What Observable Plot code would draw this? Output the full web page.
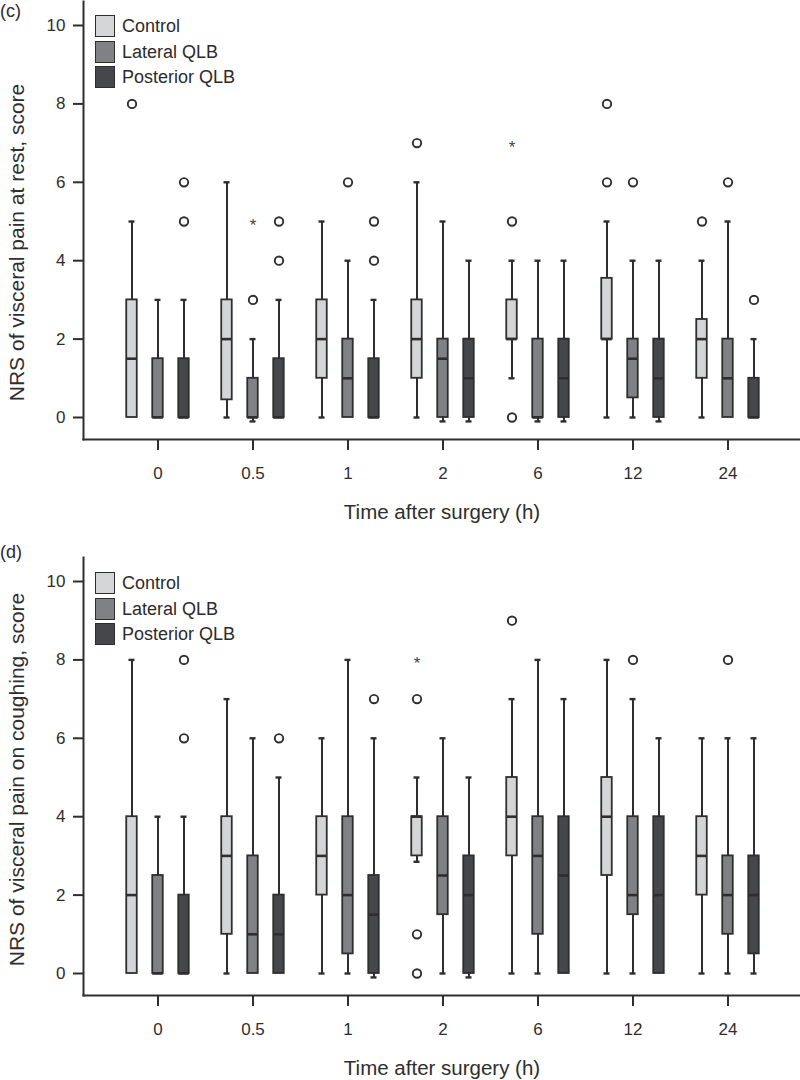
<!DOCTYPE html>
<html>
<head>
<meta charset="utf-8">
<script src="https://cdn.jsdelivr.net/npm/d3@7"></script>
<script src="https://cdn.jsdelivr.net/npm/@observablehq/plot@0.6"></script>
<style>
  body { margin: 0; background: #fff; font-family: "Liberation Sans", Arial, sans-serif; color: #2b2b2b; }
  #root { position: relative; width: 800px; }
  .panel { position: relative; width: 800px; height: 540px; }
  .panel svg { display: block; }
  .tag { position: absolute; left: 0; font-size: 18px; line-height: 18px; }
  .legend { position: absolute; left: 95px; font-size: 18px; }
  .legend .row { position: relative; height: 25.5px; }
  .legend .sw { position: absolute; left: 0; top: 0; width: 20px; height: 22px; box-sizing: border-box; border: 1.6px solid #2e2e2e; }
  .legend .lab { position: absolute; left: 27px; top: 1px; line-height: 20px; white-space: nowrap; }
</style>
</head>
<body>
<div id="root"></div>
<script>
// ---- categories ----
const times = ["0", "0.5", "1", "2", "6", "12", "24"];
const groups = ["Control", "Lateral QLB", "Posterior QLB"];
const yTicks = [0, 2, 4, 6, 8, 10];

// ---- (c) NRS at rest: rows = groups, columns = times ----
const restMin = [
  [0, 0, 0, 0, 1, 0, 0],
  [0, -0.1, 0, -0.1, -0.1, 0, 0],
  [0, 0, 0, -0.1, -0.1, -0.1, 0]
];
const restQ1 = [
  [0, 0.45, 1, 1, 2, 2, 1],
  [0, 0, 0, 0, 0, 0.5, 0],
  [0, 0, 0, 0, 0, 0, 0]
];
const restMed = [
  [1.5, 2, 2, 2, 2, 2, 2],
  [0, 0, 1, 1.5, 0, 1.5, 1],
  [0, 0, 0, 1, 1, 1, 0]
];
const restQ3 = [
  [3, 3, 3, 3, 3, 3.55, 2.5],
  [1.5, 1, 2, 2, 2, 2, 2],
  [1.5, 1.5, 1.5, 2, 2, 2, 1]
];
const restMax = [
  [5, 6, 5, 6, 4, 5, 4],
  [3, 2, 4, 5, 4, 4, 5],
  [3, 3, 3, 4, 4, 4, 2]
];
// outliers: [time, group, value]
const restOutliers = [
  ["0", "Control", 8], ["2", "Control", 7], ["6", "Control", 0], ["6", "Control", 5],
  ["12", "Control", 6], ["12", "Control", 8], ["24", "Control", 5],
  ["0.5", "Lateral QLB", 3], ["1", "Lateral QLB", 6], ["12", "Lateral QLB", 6], ["24", "Lateral QLB", 6],
  ["0", "Posterior QLB", 5], ["0", "Posterior QLB", 6], ["0.5", "Posterior QLB", 4], ["0.5", "Posterior QLB", 5],
  ["1", "Posterior QLB", 4], ["1", "Posterior QLB", 5], ["24", "Posterior QLB", 3]
];
const restExtremes = [["0.5", "Lateral QLB", 5], ["6", "Control", 7]];

// ---- (d) NRS on coughing ----
const coughMin = [
  [0, 0, 0, 2.85, 0, 0, 0],
  [0, 0, 0, 0, 0, 0, 0],
  [0, 0, -0.1, -0.1, 0, 0, 0]
];
const coughQ1 = [
  [0, 1, 2, 3, 3, 2.5, 2],
  [0, 0, 0.5, 1.5, 1, 1.5, 1],
  [0, 0, 0, 0, 0, 0, 0.5]
];
const coughMed = [
  [2, 3, 3, 4, 4, 4, 3],
  [0, 1, 2, 2.5, 3, 2, 2],
  [0, 1, 1.5, 2, 2.5, 2, 2]
];
const coughQ3 = [
  [4, 4, 4, 4, 5, 5, 4],
  [2.5, 3, 4, 4, 4, 4, 3],
  [2, 2, 2.5, 3, 4, 4, 3]
];
const coughMax = [
  [8, 7, 6, 5, 7, 8, 6],
  [4, 6, 8, 6, 8, 7, 6],
  [4, 5, 6, 5, 7, 6, 6]
];
const coughOutliers = [
  ["2", "Control", 7], ["2", "Control", 1], ["2", "Control", 0], ["6", "Control", 9],
  ["12", "Lateral QLB", 8], ["24", "Lateral QLB", 8],
  ["0", "Posterior QLB", 6], ["0", "Posterior QLB", 8], ["0.5", "Posterior QLB", 6], ["1", "Posterior QLB", 7]
];
const coughExtremes = [["2", "Control", 8]];

// ---- style ----
const fills = ["#d4d5d7", "#808185", "#46474b"];
const ink = "#2e2e2e";
const shift = [-26, 0, 26];   // horizontal offset of each group's box inside a time band
const boxInset = 42.25;       // band 95px -> box ~10.5px
const capInset = 44.5;        // whisker cap ~6px
const font = "'Liberation Sans', Arial, sans-serif";

function buildRows(mins, q1s, meds, q3s, maxs) {
  const rows = [];
  groups.forEach((g, gi) => times.forEach((t, ti) => rows.push({
    time: t, group: g, min: mins[gi][ti], q1: q1s[gi][ti], med: meds[gi][ti], q3: q3s[gi][ti], max: maxs[gi][ti]
  })));
  return rows;
}

function makePanel(cfg) {
  const rows = buildRows(cfg.mins, cfg.q1s, cfg.meds, cfg.q3s, cfg.maxs);
  const outs = cfg.outliers.map(([time, group, value]) => ({time, group, value}));
  const ext = cfg.extremes.map(([time, group, value]) => ({time, group, value}));
  const marks = [];
  groups.forEach((g, gi) => {
    const d = rows.filter(r => r.group === g);
    const dx = shift[gi];
    marks.push(Plot.ruleX(d, {x: "time", y1: "min", y2: "max", dx, stroke: ink, strokeWidth: 2}));
    marks.push(Plot.tickY(d.filter(r => r.max > r.q3), {x: "time", y: "max", dx, insetLeft: capInset, insetRight: capInset, stroke: ink, strokeWidth: 2.4}));
    marks.push(Plot.tickY(d.filter(r => r.min < r.q1), {x: "time", y: "min", dx, insetLeft: capInset, insetRight: capInset, stroke: ink, strokeWidth: 2.4}));
    marks.push(Plot.barY(d, {x: "time", y1: "q1", y2: "q3", dx, insetLeft: boxInset, insetRight: boxInset, fill: fills[gi], stroke: ink, strokeWidth: 1.8}));
    marks.push(Plot.tickY(d, {x: "time", y: "med", dx, insetLeft: boxInset, insetRight: boxInset, stroke: ink, strokeWidth: 2.6}));
    marks.push(Plot.dot(outs.filter(o => o.group === g), {x: "time", y: "value", dx, r: 4.2, fill: "white", stroke: ink, strokeWidth: 1.9}));
    marks.push(Plot.text(ext.filter(o => o.group === g), {x: "time", y: "value", dx, text: () => "*", fontSize: 17, fill: "#444", dy: 4}));
  });
  return Plot.plot({
    width: 800,
    height: 540,
    marginLeft: 83,
    marginRight: 0,
    marginTop: cfg.marginTop,
    marginBottom: cfg.marginBottom,
    insetLeft: 26.5,
    insetRight: 24.5,
    insetTop: 24,
    insetBottom: 22,
    style: {fontFamily: font, fontSize: "17px", color: ink, background: "white"},
    x: {type: "band", domain: times, padding: 0},
    y: {domain: [0, 10]},
    marks: [
      Plot.frame({anchor: "left", stroke: ink, strokeWidth: 2}),
      Plot.frame({anchor: "bottom", stroke: ink, strokeWidth: 2}),
      Plot.axisY({ticks: yTicks, tickSize: 10, tickPadding: 8, label: null, strokeWidth: 2, stroke: ink, fontSize: 17}),
      Plot.axisX({tickSize: 11, tickPadding: 16, label: null, strokeWidth: 2, stroke: ink, fontSize: 17}),
      Plot.text([cfg.ylabel], {frameAnchor: "left", textAnchor: "middle", lineAnchor: "middle", rotate: -90, dx: -66, dy: cfg.ylabelDy, fontSize: 21, fill: ink}),
      Plot.text(["Time after surgery (h)"], {frameAnchor: "bottom", textAnchor: "middle", lineAnchor: "middle", dy: 72.5, fontSize: 20.5, fill: ink}),
      ...marks
    ]
  });
}

function addPanel(tag, cfg, legendTop) {
  const div = document.createElement("div");
  div.className = "panel";
  div.appendChild(makePanel(cfg));
  const t = document.createElement("div");
  t.className = "tag";
  t.style.top = cfg.tagTop + "px";
  t.textContent = tag;
  div.appendChild(t);
  const lg = document.createElement("div");
  lg.className = "legend";
  lg.style.top = legendTop + "px";
  groups.forEach((g, gi) => {
    const row = document.createElement("div");
    row.className = "row";
    const sw = document.createElement("div");
    sw.className = "sw";
    sw.style.background = fills[gi];
    const lab = document.createElement("div");
    lab.className = "lab";
    lab.textContent = g;
    row.appendChild(sw);
    row.appendChild(lab);
    lg.appendChild(row);
  });
  div.appendChild(lg);
  document.getElementById("root").appendChild(div);
}

addPanel("(c)", {
  mins: restMin, q1s: restQ1, meds: restMed, q3s: restQ3, maxs: restMax,
  outliers: restOutliers, extremes: restExtremes,
  ylabel: "NRS of visceral pain at rest, score", ylabelDy: 22,
  marginTop: 1, marginBottom: 101, tagTop: 2
}, 15);

addPanel("(d)", {
  mins: coughMin, q1s: coughQ1, meds: coughMed, q3s: coughQ3, maxs: coughMax,
  outliers: coughOutliers, extremes: coughExtremes,
  ylabel: "NRS of visceral pain on coughing, score", ylabelDy: 3,
  marginTop: 17, marginBottom: 85, tagTop: 3
}, 32);
</script>
</body>
</html>
